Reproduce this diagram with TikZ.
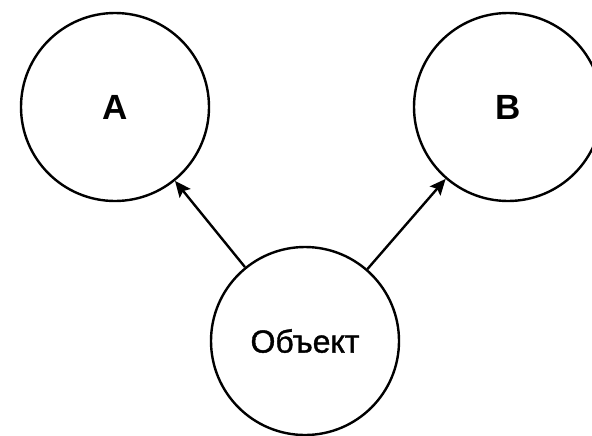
\documentclass[tikz,border=0pt]{standalone}
\usepackage{fontspec}
\setmainfont{Liberation Sans}
\newfontfamily\semibold[FakeBold=1.2]{Liberation Sans}
\usetikzlibrary{arrows.meta}

\begin{document}
\begin{tikzpicture}[x=0.5pt,y=0.5pt]
  \tikzset{
    state/.style={draw,circle,line width=1.2pt,minimum size=94pt,inner sep=0pt,
                  font=\fontsize{16}{19}\selectfont\semibold},
    letter/.style={font=\fontsize{17.5}{21}\selectfont\bfseries},
    link/.style={line width=1.2pt,-{Stealth[length=8pt,width=7pt,inset=1.5pt]}}
  }
  \useasboundingbox (0,0) rectangle (592,435);

  % states
  \node[state,letter] (a) at (115,328) {A};
  \node[state,letter] (b) at (508,328) {B};
  \node[state] (obj) at (305,94) {Объект};

  % links
  \draw[link] (obj) -- (a);
  \draw[link] (obj) -- (b);

\end{tikzpicture}
\end{document}
